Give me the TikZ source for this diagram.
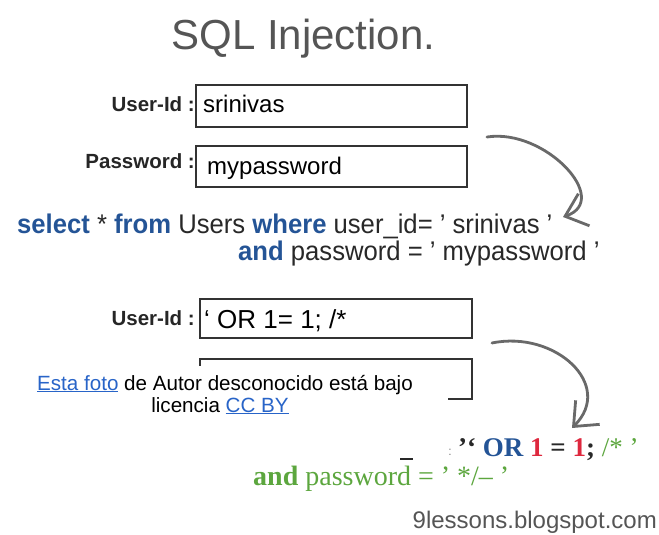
\documentclass[tikz,border=0pt]{standalone}
\usepackage{fontspec}
\setmainfont{Liberation Sans}
\newfontfamily\sqlfont[Ligatures=TeX, FakeStretch=0.95]{Liberation Sans}
\newfontfamily\sqlserif[Ligatures=TeX]{Liberation Serif}
\usetikzlibrary{arrows.meta, positioning}
\definecolor{sqlblue}{RGB}{36,84,150}
\definecolor{sqldark}{RGB}{40,40,40}
\definecolor{sqlred}{RGB}{222,40,62}
\definecolor{sqlgreen}{RGB}{92,166,62}
\definecolor{linkblue}{RGB}{40,100,200}
\definecolor{titlegray}{RGB}{85,85,85}
\definecolor{arrowgray}{RGB}{105,105,105}
\newcommand{\kw}[1]{\textcolor{sqlblue}{\textbf{#1}}}
\newcommand{\lnk}[1]{\textcolor{linkblue}{\underline{#1}}}

\begin{document}
\begin{tikzpicture}[x=1pt, y=-1pt,
  inbox/.style={draw=black!80, line width=1.6pt, minimum width=271pt, minimum height=41pt, inner sep=0pt},
  lbl/.style={font=\bfseries\fontsize{20.5}{24}\selectfont, text=black!85, anchor=base east, inner sep=0pt},
  val/.style={font=\fontsize{24}{28}\selectfont, text=black, anchor=base west, inner sep=0pt},
  sql/.style={font=\sqlfont\fontsize{27}{31}\selectfont, text=sqldark, anchor=base west, inner sep=0pt},
  credit/.style={font=\fontsize{20.6}{24}\selectfont, text=black, anchor=base, inner sep=0pt},
  inj/.style={font=\sqlserif\bfseries\fontsize{27}{31}\selectfont, text=sqldark, anchor=base west, inner sep=0pt},
  hand/.style={draw=arrowgray, line width=2.8pt, line cap=round, line join=round, -{Straight Barb[length=20pt, width=34pt]}}]
\useasboundingbox (0,0) rectangle (659,535);

\node[font=\fontsize{42}{48}\selectfont, text=titlegray, anchor=base, inner sep=0pt] (title) at (303.5,50) {SQL Injection.};

\node[inbox, minimum height=42pt] (uid) at (331.5,106) {};
\node[inbox] (pwd) at (331.5,166.5) {};
\node[lbl] (uidlbl) at (195,111) {User-Id :};
\node[lbl] (pwdlbl) at (195,168) {Password :};
\node[val] (uidval) at (203,113) {srinivas};
\node[val] (pwdval) at (207,174) {mypassword};

\coordinate (a1s) at (487,137);
\coordinate (a1e) at (563,217);
\draw[hand] (a1s) .. controls (545,128) and (612,200) .. (a1e);

\node[sql] (qa) at (17,233) {\kw{select} * \kw{from} Users \kw{where} user\_id= ' srinivas '};
\node[sql] (qb) at (238,260) {\kw{and} password = ' mypassword '};

\node[inbox, minimum width=272pt, minimum height=39pt] (uidx) at (336,318.5) {};
\node[inbox, minimum width=272pt, minimum height=40pt] (pwdx) at (336,379) {};
\node[lbl] (uidxlbl) at (195,325) {User-Id :};
\node[val, font=\fontsize{26}{30}\selectfont] (uidxval) at (204,328) {` OR 1= 1; /*};

\fill[white] (28,366) rectangle (448,422);
\node[credit] (credita) at (225,390) {\lnk{Esta foto} de Autor desconocido está bajo};
\node[credit] (creditb) at (220,412) {licencia \lnk{CC BY}};

\coordinate (a2s) at (492,343);
\coordinate (a2e) at (572,428);
\draw[hand] (a2s) .. controls (555,330) and (615,385) .. (a2e);

\node[font=\fontsize{12}{14}\selectfont, text=gray, anchor=base, inner sep=0pt] (colon) at (450,455) {:};
\draw[sqldark, line width=1.6pt] (400,459) -- (413,459);
\node[inj] (inja) at (458,456) {'` \textcolor{sqlblue}{OR} \textcolor{sqlred}{1} = \textcolor{sqlred}{1}; \textcolor{sqlgreen}{\mdseries /* '}};
\node[inj, text=sqlgreen, font=\sqlserif\bfseries\fontsize{28}{32}\selectfont] (injb) at (253,485) {and \mdseries password = ' */-- '};

\node[font=\fontsize{24}{28}\selectfont, text=titlegray, anchor=base east, inner sep=0pt] (blog) at (657,528) {9lessons.blogspot.com};
\end{tikzpicture}
\end{document}
